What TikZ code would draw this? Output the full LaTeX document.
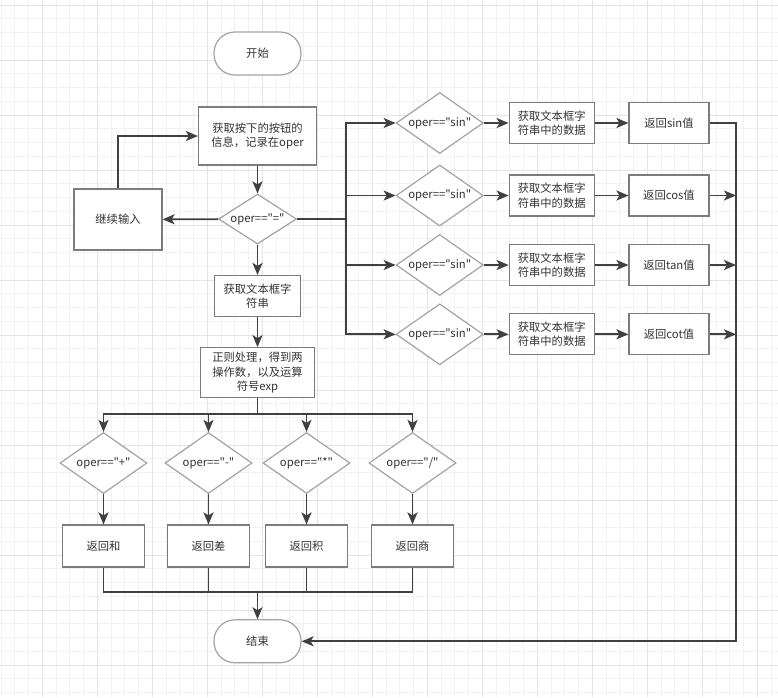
\documentclass[tikz,border=0pt]{standalone}
\usepackage{fontspec}
\setmainfont{Noto Sans CJK SC}[Ligatures=TeXOff]
\usetikzlibrary{arrows.meta, shapes.geometric}
\definecolor{linegray}{HTML}{404040}
\definecolor{boxgray}{HTML}{7C7C7C}
\definecolor{diagray}{HTML}{A3A3A3}
\definecolor{textgray}{HTML}{333333}
\definecolor{gridminor}{HTML}{F2F2F2}
\definecolor{gridmajor}{HTML}{E4E4E4}
\newcommand{\dlabel}[1]{\makebox[0pt]{#1}}

\begin{document}
\begin{tikzpicture}[x=1pt, y=-1pt, >={Stealth[length=12pt, width=10pt, inset=3pt]},
		font=\fontsize{11.3}{14.5}\selectfont, text=textgray,
		process/.style={rectangle, draw=boxgray, line width=1.2pt, fill=white, align=center, inner sep=0pt},
		decision/.style={diamond, draw=diagray, line width=1.2pt, fill=white, inner sep=0pt,
				minimum width=87pt, minimum height=61pt},
		terminal/.style={rectangle, rounded corners=21pt, draw=diagray, line width=1.2pt, fill=white,
				minimum width=87pt, minimum height=43pt},
		flow/.style={draw=linegray, line width=1.8pt}]
	\useasboundingbox (0,0) rectangle (778,697);
	\fill[white] (0,0) rectangle (778,697);
	\foreach \i in {0,...,56}
		\draw[gridminor, line width=1pt] ({1.05+13.75*\i},0) -- ({1.05+13.75*\i},697);
	\foreach \i in {0,...,50}
		\draw[gridminor, line width=1pt] (0,{5.2+13.75*\i}) -- (778,{5.2+13.75*\i});
	\foreach \i in {0,...,13}
		\draw[gridmajor, line width=1pt] ({42.3+55*\i},0) -- ({42.3+55*\i},697);
	\foreach \i in {0,...,12}
		\draw[gridmajor, line width=1pt] (0,{5.2+55*\i}) -- (778,{5.2+55*\i});

	\node[terminal] (start) at (257.5,53.5) {开始};
	\node[process, minimum width=118pt, minimum height=58pt] (info) at (257.5,136) {获取按下的按钮的\\信息，记录在oper};
	\node[decision, minimum width=78pt, minimum height=50pt] (isEq) at (257.5,219) {\dlabel{oper=="="}};
	\node[process, minimum width=88pt, minimum height=61pt] (again) at (118,219.5) {继续输入};
	\node[process, minimum width=86pt, minimum height=41pt] (getStr) at (257.5,296) {获取文本框字\\符串};
	\node[process, minimum width=114pt, minimum height=50pt] (regex) at (257.5,372.7) {正则处理，得到两\\操作数，以及运算\\符号exp};

	\draw[flow, ->] (info) -- (isEq);
	\draw[flow, ->] (isEq) -- (again);
	\draw[flow, ->] (again) |- (info);
	\draw[flow, ->] (isEq) -- (getStr);
	\draw[flow, ->] (getStr) -- (regex);

	\coordinate (splitR) at (346,219);
	\coordinate (joinR) at (736,641.3);
	\draw[flow] (isEq) -- (splitR);
	\foreach \i/\y/\trigname in {1/123/sin, 2/195.5/cos, 3/265/tan, 4/334.3/cot} {
			\node[decision] (trig\i) at (439.7,\y) {\dlabel{oper=="sin"}};
			\node[process, minimum width=85pt, minimum height=41pt] (read\i) at (551.7,\y) {获取文本框字\\符串中的数据};
			\node[process, minimum width=80pt, minimum height=41pt] (ret\i) at (669,\y) {返回\trigname 值};
			\draw[flow, ->] (splitR) |- (trig\i);
			\draw[flow, ->] (trig\i) -- (read\i);
			\draw[flow, ->] (read\i) -- (ret\i);
		}
	\foreach \i in {2, 3, 4} {
			\draw[flow, ->] (ret\i) -- (ret\i -| joinR);
		}

	\node[decision] (plus) at (103.5,463) {\dlabel{oper=="+"}};
	\node[decision] (minus) at (208.5,463) {\dlabel{oper=="-"}};
	\node[decision] (times) at (306.5,463) {\dlabel{oper=="*"}};
	\node[decision] (divide) at (412.5,463) {\dlabel{oper=="/"}};
	\node[process, minimum width=82pt, minimum height=42pt] (sum) at (103.5,546) {返回和};
	\node[process, minimum width=82pt, minimum height=42pt] (diff) at (208.5,546) {返回差};
	\node[process, minimum width=82pt, minimum height=42pt] (prod) at (306.5,546) {返回积};
	\node[process, minimum width=82pt, minimum height=42pt] (quot) at (412.5,546) {返回商};
	\node[terminal] (finish) at (257.5,641.3) {结束};

	\coordinate (splitB) at (257.5,414);
	\coordinate (joinB) at (257.5,592.3);
	\draw[flow] (regex) -- (splitB);
	\foreach \a/\b in {plus/sum, minus/diff, times/prod, divide/quot} {
			\draw[flow, ->] (splitB) -| (\a);
			\draw[flow, ->] (\a) -- (\b);
			\draw[flow] (\b) |- (joinB);
		}
	\draw[flow, ->] (joinB) -- (finish);
	\draw[flow, ->] (ret1) -| (joinR) -- (finish);
\end{tikzpicture}
\end{document}
